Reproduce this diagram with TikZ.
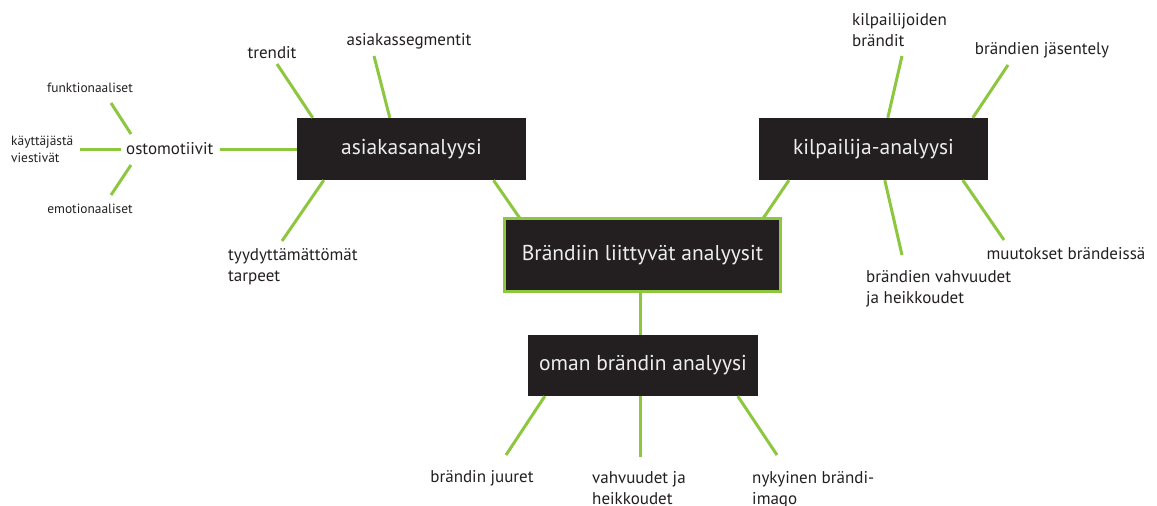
\documentclass[tikz,border=0pt]{standalone}
\usepackage{fontspec}
\setmainfont{PT Sans}
\definecolor{leaf}{RGB}{141,198,63}
\definecolor{ink}{RGB}{35,31,32}
\definecolor{txt}{RGB}{35,31,32}
\begin{document}
\begin{tikzpicture}[x=1pt,y=-1pt,
  box/.style={fill=ink,text=white!93!black,inner sep=0pt,font=\fontsize{21.5}{24}\selectfont},
  hub/.style={box,draw=leaf,line width=3pt},
  lbl/.style={text=txt,inner sep=0pt,font=\fontsize{17}{21}\selectfont,align=left},
  small/.style={text=txt,inner sep=0pt,font=\fontsize{13.4}{17}\selectfont,align=left},
  link/.style={draw=leaf,line width=3pt}]
\useasboundingbox (0,0) rectangle (1157,506);

% main boxes
\node[hub,minimum width=276pt,minimum height=73pt] (central) at (642.5,255) {Brändiin liittyvät analyysit};
\node[box,minimum width=229pt,minimum height=62pt] (asiakas) at (411.5,149) {asiakasanalyysi};
\node[box,minimum width=229pt,minimum height=62pt] (kilpailija) at (873.5,149) {kilpailija-analyysi};
\node[box,minimum width=230pt,minimum height=61pt] (oman) at (643,365.5) {oman brändin analyysi};

% links between the boxes
\draw[link] ([xshift=82pt]asiakas.south) -- ([xshift=-122.5pt,yshift=-1.5pt]central.north);
\draw[link] ([xshift=-84.5pt]kilpailija.south) -- ([xshift=120.5pt,yshift=-1.5pt]central.north);
\draw[link] ([xshift=-2.5pt]central.south) -- ([xshift=-3pt]oman.north);

% asiakasanalyysi branches (multi-line labels are placed by their last baseline)
\node[lbl,anchor=base] (trendit) at (272,58) {trendit};
\node[lbl,anchor=base] (segm) at (409,45) {asiakassegmentit};
\node[lbl,anchor=base west] (osto) at (126,154) {ostomotiivit};
\node[lbl,anchor=base west] (tyyd) at (228,281) {tyydyttämättömät\\tarpeet};
\coordinate (trendit-e) at (277,64);
\coordinate (segm-e) at (374,56);
\coordinate (osto-e) at (220,149);
\coordinate (tyyd-e) at (282,241);
\draw[link] (trendit-e) -- ([xshift=16pt]asiakas.north west);
\draw[link] (segm-e) -- ([xshift=93pt]asiakas.north west);
\draw[link] (osto-e) -- (asiakas.west);
\draw[link] (tyyd-e) -- ([xshift=27pt]asiakas.south west);

% ostomotiivit branches
\node[small,anchor=base] (funk) at (90,92) {funktionaaliset};
\node[small,anchor=base west] (kayt) at (11,162) {käyttäjästä\\viestivät};
\node[small,anchor=base] (emo) at (90,213) {emotionaaliset};
\coordinate (funk-e) at (111,103);
\coordinate (funk-s) at (131,134);
\coordinate (kayt-e) at (80,149);
\coordinate (kayt-s) at (121,149);
\coordinate (emo-e) at (111,195);
\coordinate (emo-s) at (131,165);
\draw[link] (funk-e) -- (funk-s);
\draw[link] (kayt-e) -- (kayt-s);
\draw[link] (emo-e) -- (emo-s);

% kilpailija-analyysi branches
\node[lbl,anchor=base west] (kbr) at (852,46) {kilpailijoiden\\brändit};
\node[lbl,anchor=base] (jas) at (1042,54) {brändien jäsentely};
\node[lbl,anchor=base west] (vahv) at (866,303) {brändien vahvuudet\\ja heikkoudet};
\node[lbl,anchor=base] (muut) at (1066,259) {muutokset brändeissä};
\coordinate (kbr-e) at (902,56);
\coordinate (jas-e) at (1008,65);
\coordinate (vahv-e) at (902,255);
\coordinate (muut-e) at (1004,240);
\draw[link] (kbr-e) -- ([xshift=129pt]kilpailija.north west);
\draw[link] (jas-e) -- ([xshift=214pt]kilpailija.north west);
\draw[link] (vahv-e) -- ([xshift=126pt]kilpailija.south west);
\draw[link] (muut-e) -- ([xshift=204pt]kilpailija.south west);

% oman brändin analyysi branches
\node[lbl,anchor=base] (juur) at (482,482) {brändin juuret};
\node[lbl,anchor=base west] (ovahv) at (592,504) {vahvuudet ja\\heikkoudet};
\node[lbl,anchor=base west] (nyky) at (752,504) {nykyinen brändi-\\imago};
\coordinate (juur-e) at (506,455);
\coordinate (ovahv-e) at (640,457);
\coordinate (nyky-e) at (777,455);
\draw[link] (juur-e) -- ([xshift=17pt]oman.south west);
\draw[link] (ovahv-e) -- ([xshift=-3pt]oman.south);
\draw[link] (nyky-e) -- ([xshift=210pt]oman.south west);
\end{tikzpicture}
\end{document}
